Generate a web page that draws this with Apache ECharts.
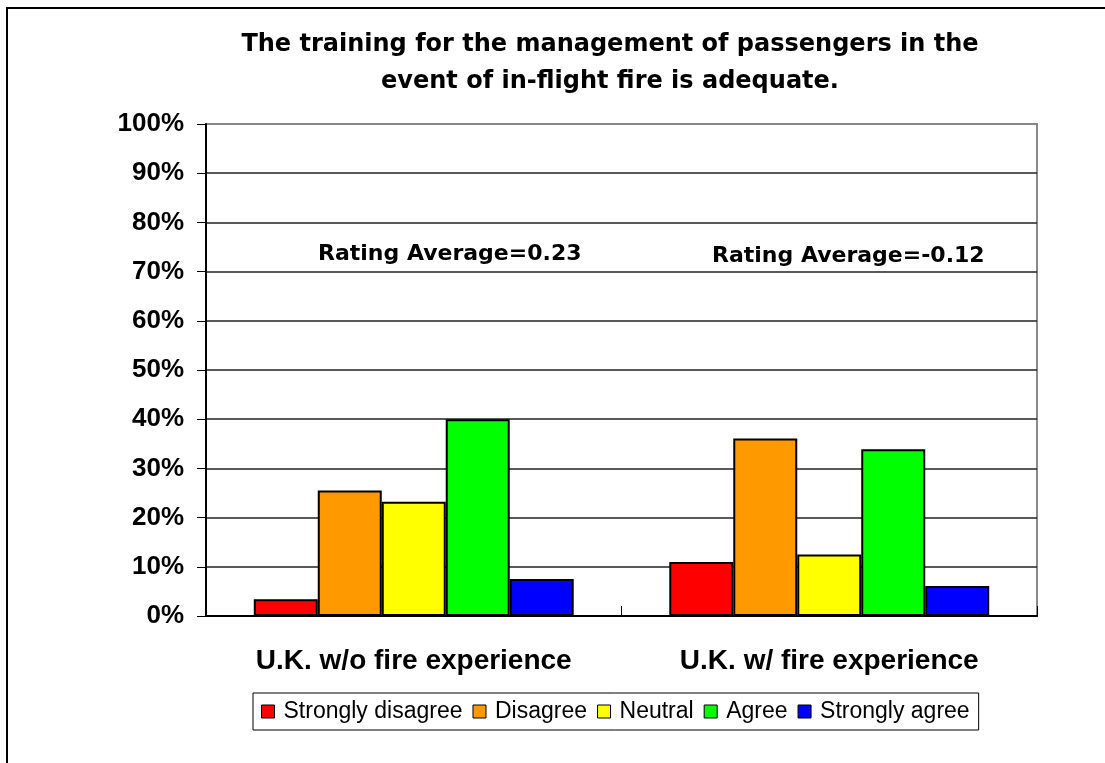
<!DOCTYPE html>
<html>
<head>
<meta charset="utf-8">
<script src="https://cdn.jsdelivr.net/npm/echarts@6/dist/echarts.min.js"></script>
<style>
  html, body { margin: 0; padding: 0; background: #fff; }
  #chart { width: 1105px; height: 763px; }
</style>
</head>
<body>
<div id="chart"></div>
<script>
var categories = ['U.K. w/o fire experience', 'U.K. w/ fire experience'];
var strongly_disagree = [3.4, 11.0];
var disagree = [25.5, 36.1];
var neutral = [23.2, 12.5];
var agree = [40.0, 33.9];
var strongly_agree = [7.5, 6.1];
var rating_labels = ['Rating Average=0.23', 'Rating Average=-0.12'];

var chart = echarts.init(document.getElementById('chart'));

function barSeries(name, data, color) {
	return {
		name: name,
		type: 'bar',
		data: data,
		barGap: 0,
		barCategoryGap: '23%',
		itemStyle: {
			color: color,
			borderColor: '#000',
			borderWidth: 2
		}
	};
}

var gridColors = ['#222', '#222', '#222', '#222', '#222', '#222', '#222', '#222', '#222', '#222', '#888'];

var option = {
	animation: false,
	backgroundColor: '#fff',
	grid: {
		left: 206,
		right: 68,
		top: 124,
		bottom: 147,
		show: true,
		borderColor: '#888',
		borderWidth: 2
	},
	legend: {
		left: 253,
		top: 693,
		padding: [7, 9, 7, 8],
		itemGap: 10,
		itemWidth: 13,
		itemHeight: 13,
		icon: 'rect',
		borderColor: '#000',
		borderWidth: 1,
		itemStyle: { borderWidth: 1, borderColor: '#000' },
		textStyle: {
			fontFamily: 'Liberation Sans',
			fontSize: 23,
			color: '#000',
			padding: [0, 0, 0, 4]
		}
	},
	xAxis: {
		type: 'category',
		data: categories,
		axisLine: { lineStyle: { color: '#000', width: 2 } },
		axisTick: { show: true, inside: true, length: 10, lineStyle: { color: '#000' } },
		axisLabel: {
			margin: 31,
			fontFamily: 'Liberation Sans',
			fontWeight: 'bold',
			fontSize: 28,
			color: '#000'
		}
	},
	yAxis: {
		type: 'value',
		min: 0,
		max: 100,
		interval: 10,
		axisLine: { show: true, lineStyle: { color: '#000', width: 2 } },
		axisTick: { show: true, length: 9, lineStyle: { color: '#000' } },
		axisLabel: {
			formatter: '{value}%',
			margin: 22,
			fontFamily: 'Liberation Sans',
			fontWeight: 'bold',
			fontSize: 26,
			color: '#000'
		},
		splitLine: { lineStyle: { color: gridColors, width: 1.5 } }
	},
	graphic: [
		{
			type: 'rect',
			shape: { x: 7, y: 8, width: 1300, height: 1000 },
			style: { fill: null, stroke: '#000', lineWidth: 2 },
			silent: true
		},
		{
			type: 'text',
			x: 610,
			y: 45,
			style: {
				text: 'The training for the management of passengers in the',
				font: 'bold 24px "DejaVu Sans"',
				fill: '#000',
				align: 'center',
				verticalAlign: 'middle'
			}
		},
		{
			type: 'text',
			x: 610,
			y: 82,
			style: {
				text: 'event of in-flight fire is adequate.',
				font: 'bold 24px "DejaVu Sans"',
				fill: '#000',
				align: 'center',
				verticalAlign: 'middle'
			}
		},
		{
			type: 'text',
			x: 318,
			y: 254,
			style: {
				text: rating_labels[0],
				font: 'bold 22px "DejaVu Sans"',
				fill: '#000',
				verticalAlign: 'middle'
			}
		},
		{
			type: 'text',
			x: 712,
			y: 256,
			style: {
				text: rating_labels[1],
				font: 'bold 22px "DejaVu Sans"',
				fill: '#000',
				verticalAlign: 'middle'
			}
		}
	],
	series: [
		barSeries('Strongly disagree', strongly_disagree, '#ff0000'),
		barSeries('Disagree', disagree, '#ff9900'),
		barSeries('Neutral', neutral, '#ffff00'),
		barSeries('Agree', agree, '#00ff00'),
		barSeries('Strongly agree', strongly_agree, '#0000ff')
	]
};

chart.setOption(option);
</script>
</body>
</html>
